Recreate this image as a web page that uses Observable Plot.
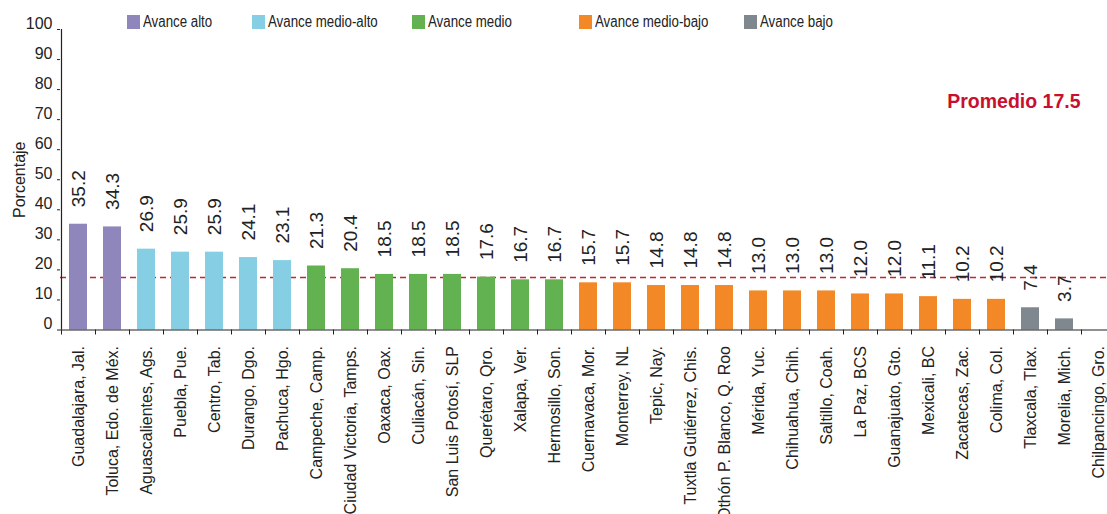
<!DOCTYPE html>
<html><head><meta charset="utf-8">
<script src="https://cdn.jsdelivr.net/npm/d3@7"></script>
<script src="https://cdn.jsdelivr.net/npm/@observablehq/plot@0.6"></script>
<style>
body{margin:0;background:#fff;}
#wrap{position:relative;width:1107px;height:514px;overflow:hidden;background:#fff;}
.leg{position:absolute;top:15px;display:flex;align-items:center;height:14px;font:16px "Liberation Sans",sans-serif;color:#222;white-space:nowrap;}
.sw{width:13px;height:14px;margin-right:3px;flex:none;}
.lt{display:inline-block;transform:scaleX(0.83);transform-origin:left center;}
</style></head><body><div id="wrap"></div>
<script>
const cities = ["Guadalajara, Jal.","Toluca, Edo. de Méx.","Aguascalientes, Ags.","Puebla, Pue.","Centro, Tab.","Durango, Dgo.","Pachuca, Hgo.","Campeche, Camp.","Ciudad Victoria, Tamps.","Oaxaca, Oax.","Culiacán, Sin.","San Luis Potosí, SLP","Querétaro, Qro.","Xalapa, Ver.","Hermosillo, Son.","Cuernavaca, Mor.","Monterrey, NL","Tepic, Nay.","Tuxtla Gutiérrez, Chis.","Othón P. Blanco, Q. Roo","Mérida, Yuc.","Chihuahua, Chih.","Saltillo, Coah.","La Paz, BCS","Guanajuato, Gto.","Mexicali, BC","Zacatecas, Zac.","Colima, Col.","Tlaxcala, Tlax.","Morelia, Mich.","Chilpancingo, Gro."];
const values = [35.2,34.3,26.9,25.9,25.9,24.1,23.1,21.3,20.4,18.5,18.5,18.5,17.6,16.7,16.7,15.7,15.7,14.8,14.8,14.8,13.0,13.0,13.0,12.0,12.0,11.1,10.2,10.2,7.4,3.7,null];
const levels = ["Avance alto","Avance alto",
  "Avance medio-alto","Avance medio-alto","Avance medio-alto","Avance medio-alto","Avance medio-alto",
  "Avance medio","Avance medio","Avance medio","Avance medio","Avance medio","Avance medio","Avance medio","Avance medio",
  "Avance medio-bajo","Avance medio-bajo","Avance medio-bajo","Avance medio-bajo","Avance medio-bajo","Avance medio-bajo","Avance medio-bajo","Avance medio-bajo","Avance medio-bajo","Avance medio-bajo","Avance medio-bajo","Avance medio-bajo","Avance medio-bajo",
  "Avance bajo","Avance bajo","Avance bajo"];
const groups = ["Avance alto","Avance medio-alto","Avance medio","Avance medio-bajo","Avance bajo"];
const groupColors = ["#8f86bc","#86cee4","#62b252","#f28926","#80888f"];
const yTicks = [0,10,20,30,40,50,60,70,80,90,100];
const average = 17.5;
const yLabel = "Porcentaje";

const legendLeft = [127,252,412,579,744];

const data = cities.map((c,i)=>({city:c, value:values[i], group:levels[i]}));
const withValue = data.filter(d=>d.value!=null);
const ink = "#222";

const chart = Plot.plot({
  width:1107, height:514,
  marginLeft:60, marginRight:0, marginTop:29, marginBottom:184.5,
  style:{fontFamily:'"Liberation Sans",sans-serif', background:"#fff", color:ink},
  x:{domain:cities, range:[60,1116], paddingInner:0.47, paddingOuter:0.235, align:0.5, axis:null},
  y:{domain:[0,100], axis:null},
  color:{domain:groups, range:groupColors},
  marks:[
    Plot.ruleY([average], {stroke:"#c1272d", strokeWidth:1.5, strokeDasharray:"6,4"}),
    Plot.barY(withValue, {x:"city", y:"value", fill:"group"}),
    Plot.text(withValue, {x:"city", y:"value", text:d=>d.value.toFixed(1), rotate:-90, textAnchor:"start", dy:-17, fontSize:19, fill:ink}),
    Plot.ruleY([0], {stroke:ink, strokeWidth:1.2}),
    Plot.ruleX([cities[0]], {x:d=>d, y1:0, y2:100, dx:-17, stroke:ink, strokeWidth:1.2}),
    Plot.axisY({ticks:yTicks, tickSize:3, tickFormat:()=>"", label:null, stroke:ink}),
    Plot.axisY({ticks:yTicks, tickSize:0, tickPadding:8, fontSize:16, dy:-6, label:null, fill:ink}),
    Plot.axisX({tickSize:5, tickFormat:()=>"", dx:-17, label:null, stroke:ink}),
    Plot.axisX({tickSize:0, tickRotate:-90, tickPadding:16, fontSize:16, label:null, fill:ink}),
    Plot.text([yLabel], {frameAnchor:"left", textAnchor:"middle", rotate:-90, dx:-41, fontSize:16, fill:ink}),
    Plot.text([`Promedio ${average}`], {frameAnchor:"top-right", textAnchor:"end", dx:-27, dy:65, fontSize:19.5, fontWeight:"bold", fill:"#c8102e"})
  ]
});
const wrap = document.getElementById("wrap");
wrap.appendChild(chart);
groups.forEach((g,i)=>{
  const el = document.createElement("div");
  el.className = "leg";
  el.style.left = legendLeft[i] + "px";
  el.innerHTML = `<span class="sw" style="background:${groupColors[i]}"></span><span class="lt">${g}</span>`;
  wrap.appendChild(el);
});
</script>
</body></html>
